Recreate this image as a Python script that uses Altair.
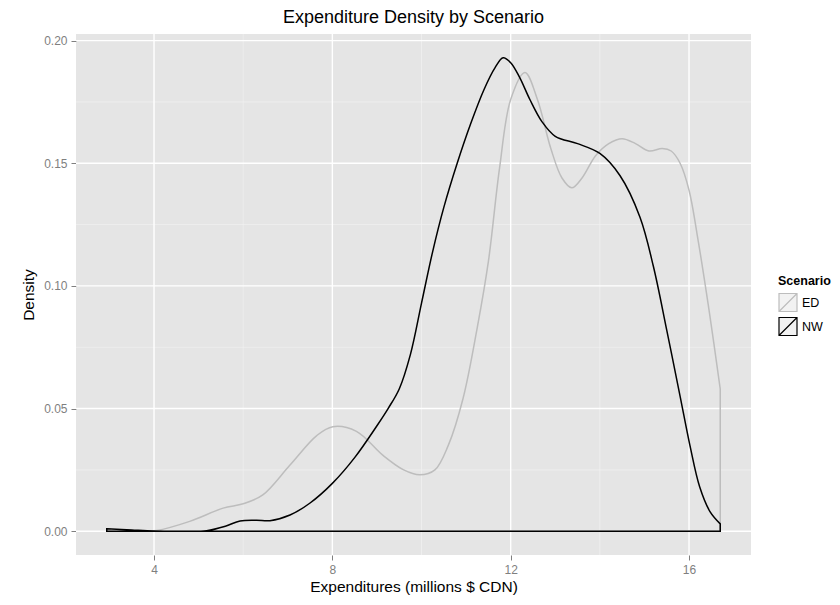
import altair as alt
import pandas as pd

scenario_order = ["ED", "NW"]
scenario_colors = ["#bdbdbd", "#000000"]

ed_x = [2.94, 3.5, 4.06, 4.8, 5.55, 6.0, 6.44, 7.05, 7.65, 8.01, 8.54, 9.13, 9.6,
        9.96, 10.3, 10.6, 10.93, 11.25, 11.5, 11.75, 12.0, 12.32, 12.6, 12.9, 13.15,
        13.37, 13.6, 13.9, 14.2, 14.5, 14.8, 15.1, 15.4, 15.6, 15.8, 16.0, 16.2,
        16.45, 16.70]
ed_density = [0.0, 0.0, 0.0003, 0.004, 0.0094, 0.0112, 0.0148, 0.027, 0.039, 0.0426,
              0.0407, 0.031, 0.025, 0.023, 0.025, 0.035, 0.054, 0.083, 0.110, 0.148,
              0.176, 0.187, 0.176, 0.156, 0.144, 0.140, 0.144, 0.153, 0.158, 0.160,
              0.158, 0.155, 0.156, 0.155, 0.150, 0.139, 0.119, 0.090, 0.058]

nw_x = [2.94, 3.5, 4.0, 4.6, 5.18, 5.6, 5.93, 6.3, 6.6, 7.05, 7.5, 8.0, 8.5,
        9.0, 9.25, 9.5, 9.75, 10.0, 10.25, 10.5, 10.8, 11.1, 11.4, 11.65, 11.83, 12.0,
        12.2, 12.43, 12.7, 13.0, 13.5, 14.0, 14.45, 14.9, 15.2, 15.5, 15.8, 16.02,
        16.24, 16.47, 16.70]
nw_density = [0.001, 0.0005, 0.0001, 0.0, 0.0002, 0.002, 0.0042, 0.0045, 0.0043, 0.0066,
              0.0115, 0.0195, 0.030, 0.043, 0.050, 0.058, 0.072, 0.093, 0.114,
              0.132, 0.150, 0.166, 0.180, 0.189, 0.193, 0.191, 0.185, 0.176, 0.167,
              0.161, 0.158, 0.154, 0.145, 0.128, 0.108, 0.082, 0.055, 0.035, 0.018,
              0.008, 0.003]

x_major = [4, 8, 12, 16]
x_minor = [6, 10, 14]
y_major = [0.0, 0.05, 0.10, 0.15, 0.20]
y_minor = [0.025, 0.075, 0.125, 0.175]

df = pd.concat([
    pd.DataFrame({"Expenditure": ed_x, "Density": ed_density, "Scenario": "ED"}),
    pd.DataFrame({"Expenditure": nw_x, "Density": nw_density, "Scenario": "NW"}),
])

FONT = "Liberation Sans"
xscale = alt.Scale(domain=[2.25, 17.39], nice=False, zero=False)
yscale = alt.Scale(domain=[-0.0097, 0.2027], nice=False, zero=False)

xaxis = alt.Axis(values=x_major, title="Expenditures (millions $ CDN)", grid=False,
                 domain=False, tickSize=5, tickColor="#7f7f7f", tickWidth=1,
                 labelColor="#7f7f7f", labelFontSize=12, labelFont=FONT,
                 labelPadding=4, titleFont=FONT, titleFontSize=15.5,
                 titleFontWeight="normal", titleColor="#000000", titlePadding=4)
yaxis = alt.Axis(values=y_major, format=".2f", title="Density", grid=False,
                 domain=False, tickSize=5, tickColor="#7f7f7f", tickWidth=1,
                 labelColor="#7f7f7f", labelFontSize=12, labelFont=FONT,
                 labelPadding=4, titleFont=FONT, titleFontSize=15.5,
                 titleFontWeight="normal", titleColor="#000000", titlePadding=7)

vminor = alt.Chart(pd.DataFrame({"Expenditure": x_minor})).mark_rule(
    color="#f2f2f2", strokeWidth=0.7).encode(
    x=alt.X("Expenditure:Q", scale=xscale, axis=xaxis))
hminor = alt.Chart(pd.DataFrame({"Density": y_minor})).mark_rule(
    color="#f2f2f2", strokeWidth=0.7).encode(
    y=alt.Y("Density:Q", scale=yscale, axis=yaxis))
vmajor = alt.Chart(pd.DataFrame({"Expenditure": x_major})).mark_rule(
    color="#ffffff", strokeWidth=1.4).encode(
    x=alt.X("Expenditure:Q", scale=xscale, axis=xaxis))
hmajor = alt.Chart(pd.DataFrame({"Density": y_major})).mark_rule(
    color="#ffffff", strokeWidth=1.4).encode(
    y=alt.Y("Density:Q", scale=yscale, axis=yaxis))

area = alt.Chart(df).mark_area(
    interpolate="catmull-rom", fill="#f2f2f2", fillOpacity=0, strokeWidth=1.5
).encode(
    x=alt.X("Expenditure:Q", scale=xscale, axis=xaxis),
    y=alt.Y("Density:Q", scale=yscale, stack=None, axis=yaxis),
    y2=alt.datum(0),
    stroke=alt.Stroke("Scenario:N",
                      scale=alt.Scale(domain=scenario_order, range=scenario_colors),
                      legend=alt.Legend(title="Scenario", orient="none", legendX=702,
                                        legendY=241,
                                        symbolType="M-1,-1H1V1H-1ZM-1,1L1,-1",
                                        symbolSize=324, symbolFillColor="#f2f2f2",
                                        symbolStrokeWidth=1.2, titleFont=FONT,
                                        titleFontSize=12.5, titleFontWeight="bold",
                                        titleColor="#000000", labelFont=FONT,
                                        labelFontSize=12.5, labelColor="#000000",
                                        rowPadding=0, titlePadding=5, labelOffset=4)),
)

chart = alt.layer(vminor, hminor, vmajor, hmajor, area).properties(
    width=675, height=521,
    title=alt.TitleParams("Expenditure Density by Scenario", font=FONT, fontSize=18,
                          fontWeight="normal", color="#000000", anchor="middle", offset=6),
    autosize=alt.AutoSizeParams(type="none"),
    padding={"left": 68, "top": 26, "right": 81, "bottom": 40},
    background="#ffffff",
).configure_view(fill="#e5e5e5", stroke=None)

chart.save("out.html", embed_options={"renderer": "svg", "actions": False})
